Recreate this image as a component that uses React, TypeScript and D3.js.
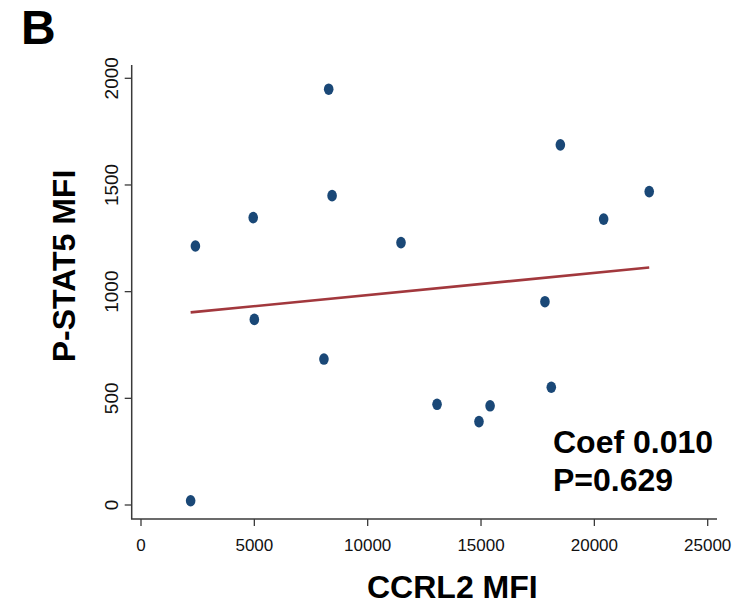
import React, { useEffect } from "react";
import * as d3 from "d3";

// CCRL2 vs P-STAT5 scatter with linear fit (panel B)
const ccrl2 = [2190, 2400, 4950, 5000, 8070, 8280, 8430, 11470, 13060, 14910, 15400, 17820, 18100, 18500, 20410, 22420];
const pstat5 = [20, 1214, 1347, 870, 684, 1949, 1450, 1230, 472, 391, 465, 953, 552, 1688, 1340, 1469];

const xTicks = [0, 5000, 10000, 15000, 20000, 25000];
const yTicks = [0, 500, 1000, 1500, 2000];

const fitIntercept = 880;
const fitSlope = 0.0104;
const statLines = ["Coef 0.010", "P=0.629"];

const W = 743;
const H = 613;
const font = "'Liberation Sans', Arial, Helvetica, sans-serif";

export default function App() {
  useEffect(() => {
    document.body.style.margin = "0";
  }, []);

  const x = d3.scaleLinear().domain([0, 25000]).range([141, 707.7]);
  const y = d3.scaleLinear().domain([0, 2000]).range([505, 78.3]);

  const axisX = 131.7;
  const axisY = 519;

  const xmin = d3.min(ccrl2)!;
  const xmax = d3.max(ccrl2)!;
  const fit = d3
    .line<number>()
    .x((d) => x(d))
    .y((d) => y(fitIntercept + fitSlope * d));

  const axisColor = "#3a3a3a";

  return (
    <svg width={W} height={H} style={{ display: "block", background: "#fff" }} fontFamily={font}>
      <text x={21} y={44} fontSize={48} fontWeight="bold" fill="#000">
        B
      </text>

      {/* axes */}
      <line x1={axisX} x2={axisX} y1={65} y2={axisY} stroke={axisColor} strokeWidth={1.5} />
      <line x1={axisX - 0.7} x2={717} y1={axisY} y2={axisY} stroke={axisColor} strokeWidth={1.5} />

      {yTicks.map((t) => (
        <g key={"y" + t}>
          <line x1={axisX - 7} x2={axisX} y1={y(t)} y2={y(t)} stroke={axisColor} strokeWidth={1.3} />
          <text
            transform={`translate(${117.5},${y(t)}) rotate(-90)`}
            textAnchor="middle"
            fontSize={19}
            fill="#111"
          >
            {t}
          </text>
        </g>
      ))}

      {xTicks.map((t) => (
        <g key={"x" + t}>
          <line x1={x(t)} x2={x(t)} y1={axisY} y2={axisY + 7} stroke={axisColor} strokeWidth={1.3} />
          <text x={x(t)} y={551} textAnchor="middle" fontSize={17} fill="#111">
            {t}
          </text>
        </g>
      ))}

      {/* fitted line */}
      <path d={fit([xmin, xmax]) ?? ""} fill="none" stroke="#a2383d" strokeWidth={2.6} />

      {/* points */}
      {ccrl2.map((v, i) => (
        <ellipse key={i} cx={x(v)} cy={y(pstat5[i])} rx={4.8} ry={5.8} fill="#1a4877" />
      ))}

      {/* axis titles */}
      <text x={367} y={598} fontSize={32} fontWeight="bold" fill="#000">
        CCRL2 MFI
      </text>
      <text
        transform={`translate(${75},${266}) rotate(-90)`}
        textAnchor="middle"
        fontSize={32}
        fontWeight="bold"
        fill="#000"
      >
        P-STAT5 MFI
      </text>

      {statLines.map((s, i) => (
        <text key={s} x={553} y={453 + i * 38} fontSize={32} fontWeight="bold" fill="#000">
          {s}
        </text>
      ))}
    </svg>
  );
}
